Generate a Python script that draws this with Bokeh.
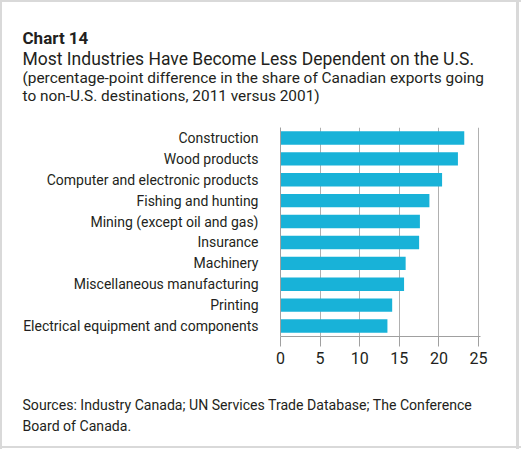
from bokeh.plotting import figure
from bokeh.models import Range1d, FactorRange, Label, FixedTicker, ColumnDataSource
from bokeh.embed import file_html
from bokeh.resources import INLINE

industries = [
    "Construction",
    "Wood products",
    "Computer and electronic products",
    "Fishing and hunting",
    "Mining (except oil and gas)",
    "Insurance",
    "Machinery",
    "Miscellaneous manufacturing",
    "Printing",
    "Electrical equipment and components",
]
values = [23.2, 22.4, 20.4, 18.8, 17.6, 17.5, 15.8, 15.6, 14.1, 13.5]
x_ticks = [0, 5, 10, 15, 20, 25]

chart_no = "Chart 14"
title = "Most Industries Have Become Less Dependent on the U.S."
subtitle1 = "(percentage-point difference in the share of Canadian exports going"
subtitle2 = "to non-U.S. destinations, 2011 versus 2001)"
source1 = "Sources: Industry Canada; UN Services Trade Database; The Conference"
source2 = "Board of Canada."

FONT = "Roboto"
TXT = "#231f20"
EDGE = "#d9d9d9"
W = 521
H_TOP, H_MAIN, H_BOT = 120, 258, 71

SIDES = (f"linear-gradient(to right, {EDGE} 0px, {EDGE} 2px, rgba(255,255,255,0) 2px, "
         f"rgba(255,255,255,0) 516px, {EDGE} 516px, {EDGE} 519px, rgba(255,255,255,0) 519px)")
TOP_EDGE = f"linear-gradient(to bottom, {EDGE} 0px, {EDGE} 2px, #ffffff 2px)"
BOT_EDGE = (f"linear-gradient(to top, #ffffff 0px, #ffffff 1px, {EDGE} 1px, "
            f"{EDGE} 3px, #ffffff 3px)")


def text_fig(h, bg):
    f = figure(width=W, height=h, x_range=Range1d(0, W), y_range=Range1d(0, h),
               x_axis_type=None, y_axis_type=None, min_border=0,
               output_backend="svg", toolbar_location=None)
    f.outline_line_color = None
    f.grid.visible = False
    f.background_fill_color = None
    f.border_fill_color = None
    f.styles = {"background": bg}
    return f


def add_label(f, txt, x, y, size, bold=False):
    f.add_layout(Label(x=x, y=y, x_units="screen", y_units="screen", text=txt,
                       text_font=FONT, text_font_size=size, text_color=TXT,
                       text_font_style="bold" if bold else "normal",
                       text_baseline="alphabetic", text_align="left"))


top = text_fig(H_TOP, SIDES + ", " + TOP_EDGE)
add_label(top, chart_no, 22, 83, "17px", bold=True)
add_label(top, title, 22, 62, "17.5px")
add_label(top, subtitle1, 22, 42.5, "15.4px")
add_label(top, subtitle2, 22, 25, "15.4px")

src = ColumnDataSource(dict(y=industries, x=values))
p = figure(
    width=W, height=H_MAIN,
    y_range=FactorRange(factors=list(reversed(industries)), range_padding=0),
    x_range=Range1d(0, 25.25),
    output_backend="svg", toolbar_location=None,
    min_border_left=280, min_border_right=41,
    min_border_top=7, min_border_bottom=42,
)
p.hbar(y="y", right="x", left=0, height=0.64, source=src,
       fill_color="#18b2d8", line_color=None)

p.outline_line_color = None
p.background_fill_color = "white"
p.border_fill_color = None
p.styles = {"background": SIDES + ", #ffffff"}
p.ygrid.grid_line_color = None
p.xgrid.grid_line_color = "#b0b0b0"
p.xgrid.ticker = FixedTicker(ticks=x_ticks)

p.xaxis.ticker = FixedTicker(ticks=x_ticks)
p.xaxis.axis_line_color = "#a0a0a0"
p.xaxis.major_tick_line_color = "#a0a0a0"
p.xaxis.major_tick_out = 10
p.xaxis.major_tick_in = 0
p.xaxis.minor_tick_line_color = None
p.xaxis.major_label_text_font = FONT
p.xaxis.major_label_text_font_size = "16px"
p.xaxis.major_label_text_color = TXT
p.xaxis.major_label_standoff = 5

p.yaxis.axis_line_color = "#a0a0a0"
p.yaxis.major_tick_line_color = None
p.yaxis.minor_tick_line_color = None
p.yaxis.major_label_text_font = FONT
p.yaxis.major_label_text_font_size = "14px"
p.yaxis.major_label_text_color = TXT
p.yaxis.major_label_standoff = 16

bot = text_fig(H_BOT, SIDES + ", " + BOT_EDGE)
add_label(bot, source1, 22, 45, "14.1px")
add_label(bot, source2, 22, 24, "14.1px")

open("out.html", "w").write(file_html([top, p, bot], INLINE))
